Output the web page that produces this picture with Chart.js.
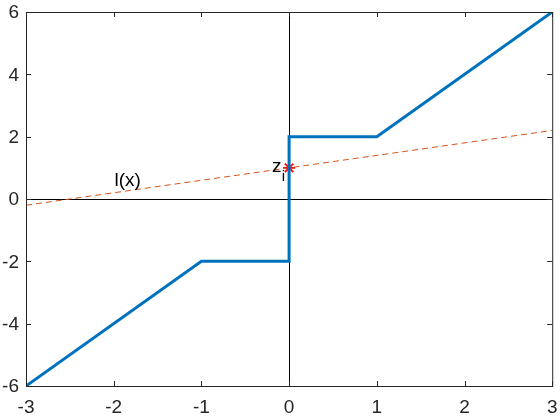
<!DOCTYPE html>
<html>
<head>
<meta charset="utf-8">
<script src="https://cdn.jsdelivr.net/npm/chart.js@4"></script>
<style>
  html, body { margin: 0; padding: 0; background: #fff; }
  #wrap { width: 560px; height: 420px; }
</style>
</head>
<body>
<div id="wrap"><canvas id="myChart" width="560" height="420"></canvas></div>
<script>
// function f(x)
const fX = [-3, -1, 0, 0, 1, 3];
const fY = [-6, -2, -2, 2, 2, 6];
// line l(x)
const lX = [-3, 3];
const lY = [-0.2, 2.2];
// point z_i
const zX = [0];
const zY = [1];
const xTicks = [-3, -2, -1, 0, 1, 2, 3];
const yTicks = [-6, -4, -2, 0, 2, 4, 6];

function pts(xs, ys) {
  return xs.map((x, i) => ({ x: x, y: ys[i] }));
}

const FAM = 'Liberation Sans, Arial, sans-serif';

// axes lines, inward ticks, tick labels, box and text labels
const extras = {
  id: 'extras',
  beforeDatasetsDraw(chart) {
    const c = chart.ctx, xs = chart.scales.x, ys = chart.scales.y, a = chart.chartArea;
    c.save();
    c.strokeStyle = '#000';
    c.lineWidth = 1;
    c.beginPath();
    const x0 = Math.round(xs.getPixelForValue(0)) + 0.5;
    const y0 = Math.round(ys.getPixelForValue(0)) + 0.5;
    c.moveTo(x0, a.top); c.lineTo(x0, a.bottom);
    c.moveTo(a.left, y0); c.lineTo(a.right, y0);
    c.stroke();
    c.restore();
  },
  afterDatasetsDraw(chart) {
    const c = chart.ctx, xs = chart.scales.x, ys = chart.scales.y, a = chart.chartArea;
    c.save();
    c.strokeStyle = '#262626';
    c.lineWidth = 1;
    c.strokeRect(a.left + 0.5, a.top + 0.5, a.right - a.left, a.bottom - a.top);
    c.beginPath();
    xTicks.forEach(v => {
      const p = Math.round(xs.getPixelForValue(v)) + 0.5;
      c.moveTo(p, a.bottom); c.lineTo(p, a.bottom - 5);
      c.moveTo(p, a.top); c.lineTo(p, a.top + 5);
    });
    yTicks.forEach(v => {
      const p = Math.round(ys.getPixelForValue(v)) + 0.5;
      c.moveTo(a.left, p); c.lineTo(a.left + 5, p);
      c.moveTo(a.right, p); c.lineTo(a.right - 5, p);
    });
    c.stroke();

    c.fillStyle = '#262626';
    c.font = '19px ' + FAM;
    c.textBaseline = 'middle';
    c.textAlign = 'center';
    xTicks.forEach(v => c.fillText(String(v), xs.getPixelForValue(v), a.bottom + 22));
    c.textAlign = 'right';
    yTicks.forEach(v => c.fillText(String(v), a.left - 7, ys.getPixelForValue(v) + 1));

    c.fillStyle = '#000';
    c.textAlign = 'center';
    c.fillText('l(x)', xs.getPixelForValue(-1.84), ys.getPixelForValue(0.6));
    c.fillText('z', xs.getPixelForValue(-0.14), ys.getPixelForValue(1.02));
    c.font = '15px ' + FAM;
    c.fillText('i', xs.getPixelForValue(-0.065), ys.getPixelForValue(0.72));
    c.restore();
  }
};

const ctx = document.getElementById('myChart').getContext('2d');
const myChart = new Chart(ctx, {
  type: 'scatter',
  data: {
    datasets: [{
      data: pts(fX, fY),
      showLine: true,
      borderColor: '#0072BD',
      borderWidth: 3,
      pointRadius: 0
    }, {
      data: pts(lX, lY),
      showLine: true,
      borderColor: '#D95319',
      borderWidth: 1,
      borderDash: [6, 4],
      pointRadius: 0
    }, {
      data: pts(zX, zY),
      showLine: false,
      pointStyle: 'star',
      pointRadius: 6,
      borderColor: '#FF0000',
      backgroundColor: '#FF0000',
      borderWidth: 1.8
    }]
  },
  options: {
    responsive: false,
    animation: false,
    plugins: { legend: { display: false }, tooltip: { enabled: false } },
    layout: { padding: { top: 12, right: 6, left: 26, bottom: 34 } },
    scales: {
      x: { type: 'linear', min: -3, max: 3, display: false },
      y: { type: 'linear', min: -6, max: 6, display: false }
    }
  },
  plugins: [extras]
});
</script>
</body>
</html>
